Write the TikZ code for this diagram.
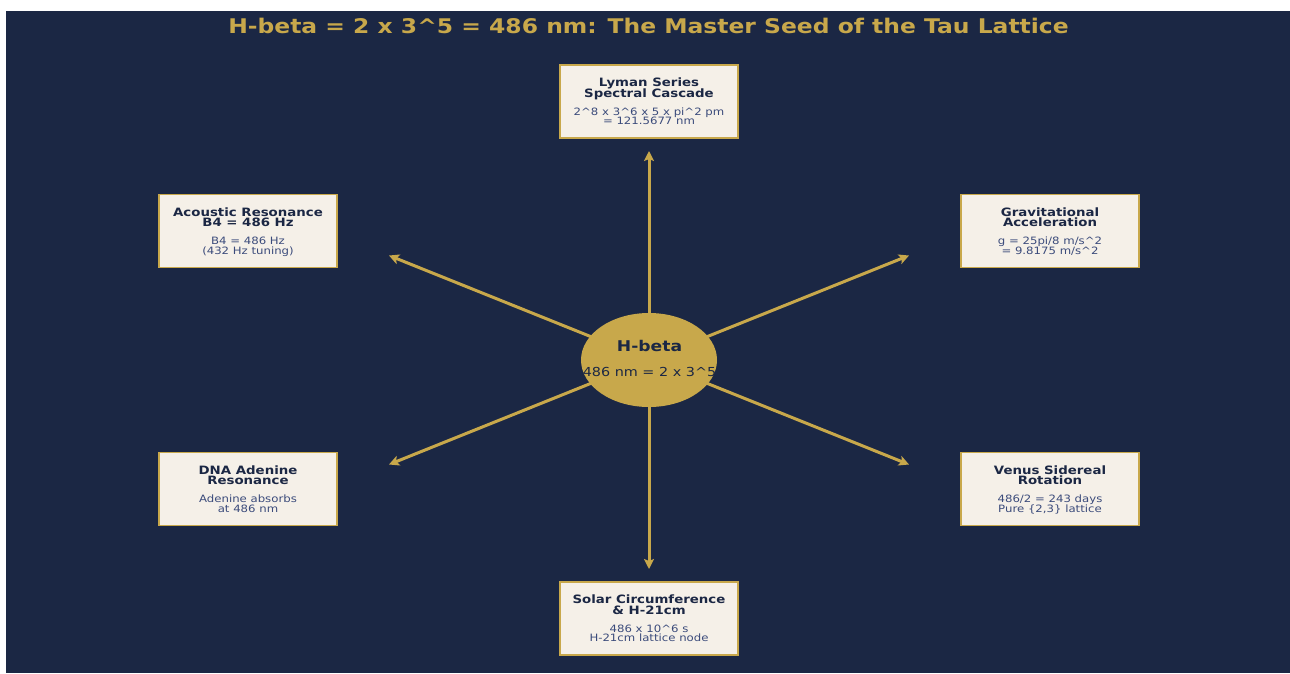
\documentclass[tikz,border=0pt]{standalone}
\usepackage{fontspec}
\setmainfont{DejaVu Sans}[FakeStretch=1.16]
\usetikzlibrary{arrows.meta,shapes.geometric}
\definecolor{navy}{HTML}{1B2744}
\definecolor{gold}{HTML}{C8A84B}
\definecolor{cream}{HTML}{F5F0E8}
\definecolor{slate}{HTML}{3B4B7B}
\newcommand{\infobox}[7]{%
  \node[infobox] (#1) at (#2) {};
  \node[boxtitle] (#1-t1) at ([yshift=14.8pt]#1.center) {#3};
  \node[boxtitle] (#1-t2) at ([yshift=4.3pt]#1.center) {#4};
  \node[boxdetail] (#1-d1) at ([yshift=-13.6pt]#1.center) {#5};
  \node[boxdetail] (#1-d2) at ([yshift=-23.3pt]#1.center) {#6};
}
\begin{document}
\begin{tikzpicture}[x=1pt,y=-1pt,
  infobox/.style={draw=gold, line width=1.8pt, fill=cream, minimum width=178pt, minimum height=73pt, inner sep=0pt},
  boxtitle/.style={anchor=base, inner sep=0pt, font=\fontsize{11.5}{10}\selectfont\bfseries, text=navy},
  boxdetail/.style={anchor=base, inner sep=0pt, font=\fontsize{10.1}{10}\selectfont, text=slate},
  spoke/.style={draw=gold, line width=3pt, -{Stealth[length=10pt,width=10pt,inset=2pt]}},
  hub/.style={ellipse, fill=gold, minimum width=136pt, minimum height=94pt, inner sep=0pt}]
\useasboundingbox (0,0) rectangle (1290,673);
\fill[white] (0,0) rectangle (1290,673);
\fill[navy] (6,11) rectangle (1290,673);
\node[anchor=base, inner sep=0pt, text=gold, font=\fontsize{20.2}{24}\selectfont\bfseries] (title) at (648.5,33.7)
  {H-beta = 2 x 3\^{}5 = 486 nm: The Master Seed of the Tau Lattice};
% spokes
\coordinate (c) at (649,360);
\coordinate (tN) at (649,151);
\coordinate (tS) at (649,569);
\coordinate (tNW) at (389,255.5);
\coordinate (tNE) at (909,255.5);
\coordinate (tSW) at (389,464.5);
\coordinate (tSE) at (909,464.5);
\foreach \t in {tN,tS,tNW,tNE,tSW,tSE} \draw[spoke] (c) -- (\t);
% hub
\node[hub] (hb) at (c) {};
\node[anchor=base, inner sep=0pt, text=navy, font=\fontsize{14.8}{16}\selectfont\bfseries] (hbt) at (649.5,351.7) {H-beta};
\node[anchor=base, inner sep=0pt, text=navy, font=\fontsize{12.4}{14}\selectfont] (hbs) at (649.5,376) {486 nm = 2 x 3\^{}5};
% boxes
\infobox{ly}{649,101.5}{Lyman Series}{Spectral Cascade}{2\^{}8 x 3\^{}6 x 5 x pi\^{}2 pm}{= 121.5677 nm}{}
\infobox{ac}{248,231}{Acoustic Resonance}{B4 = 486 Hz}{B4 = 486 Hz}{(432 Hz tuning)}{}
\infobox{gr}{1050,231}{Gravitational}{Acceleration}{g = 25pi/8 m/s\^{}2}{= 9.8175 m/s\^{}2}{}
\infobox{dn}{248,489}{DNA Adenine}{Resonance}{Adenine absorbs}{at 486 nm}{}
\infobox{ve}{1050,489}{Venus Sidereal}{Rotation}{486/2 = 243 days}{Pure \{2,3\} lattice}{}
\infobox{so}{649,618.5}{Solar Circumference}{\& H-21cm}{486 x 10\^{}6 s}{H-21cm lattice node}{}
\end{tikzpicture}
\end{document}
